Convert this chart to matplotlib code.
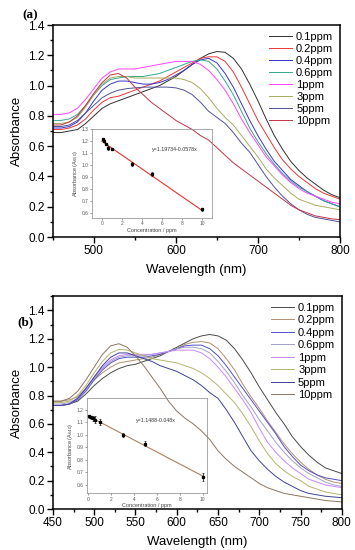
import matplotlib
matplotlib.use("Agg")
import matplotlib.pyplot as plt
from matplotlib.ticker import MultipleLocator

plt.rcParams['font.family'] = ['Liberation Sans', 'DejaVu Sans']

wl = list(range(450, 801, 10))
labels = ['0.1ppm', '0.2ppm', '0.4ppm', '0.6ppm', '1ppm', '3ppm', '5ppm', '10ppm']

# panel (a) spectra
a_01 = [0.69, 0.69, 0.70, 0.71, 0.75, 0.80, 0.85, 0.88, 0.90, 0.92, 0.94, 0.96, 0.98, 1.00, 1.03, 1.06, 1.10, 1.14,
        1.18, 1.21, 1.225, 1.22, 1.18, 1.11, 1.01, 0.90, 0.78, 0.67, 0.58, 0.50, 0.44, 0.39, 0.35, 0.31, 0.28, 0.26]
a_02 = [0.71, 0.71, 0.72, 0.74, 0.78, 0.84, 0.89, 0.92, 0.93, 0.95, 0.97, 0.99, 1.01, 1.03, 1.06, 1.09, 1.12, 1.15,
        1.18, 1.19, 1.19, 1.16, 1.09, 0.99, 0.88, 0.77, 0.68, 0.59, 0.51, 0.45, 0.40, 0.36, 0.32, 0.29, 0.27, 0.25]
a_04 = [0.72, 0.72, 0.73, 0.76, 0.82, 0.90, 0.97, 1.01, 1.03, 1.03, 1.02, 1.01, 1.01, 1.02, 1.04, 1.07, 1.10, 1.14,
        1.17, 1.18, 1.15, 1.08, 0.99, 0.88, 0.77, 0.67, 0.58, 0.50, 0.44, 0.38, 0.34, 0.30, 0.27, 0.24, 0.22, 0.20]
a_06 = [0.77, 0.77, 0.78, 0.81, 0.87, 0.94, 1.00, 1.04, 1.05, 1.06, 1.06, 1.06, 1.07, 1.08, 1.10, 1.12, 1.14, 1.16,
        1.17, 1.16, 1.11, 1.03, 0.94, 0.83, 0.72, 0.63, 0.55, 0.48, 0.42, 0.37, 0.33, 0.30, 0.27, 0.24, 0.22, 0.20]
a_1 = [0.81, 0.81, 0.82, 0.85, 0.91, 0.98, 1.05, 1.09, 1.11, 1.11, 1.11, 1.12, 1.13, 1.14, 1.15, 1.16, 1.16, 1.16,
       1.14, 1.10, 1.04, 0.97, 0.88, 0.78, 0.69, 0.61, 0.53, 0.47, 0.41, 0.36, 0.32, 0.29, 0.27, 0.25, 0.23, 0.22]
a_3 = [0.75, 0.75, 0.76, 0.79, 0.86, 0.94, 1.01, 1.05, 1.06, 1.06, 1.05, 1.05, 1.05, 1.05, 1.05, 1.05, 1.04, 1.02,
       0.98, 0.92, 0.85, 0.79, 0.74, 0.67, 0.60, 0.53, 0.45, 0.39, 0.34, 0.29, 0.25, 0.23, 0.21, 0.20, 0.19, 0.18]
a_5 = [0.73, 0.73, 0.74, 0.77, 0.82, 0.87, 0.92, 0.95, 0.97, 0.98, 0.985, 0.99, 0.99, 0.99, 0.99, 0.985, 0.97, 0.94,
       0.89, 0.83, 0.79, 0.75, 0.69, 0.62, 0.56, 0.48, 0.40, 0.33, 0.27, 0.22, 0.18, 0.15, 0.13, 0.12, 0.11, 0.10]
a_10 = [0.74, 0.74, 0.76, 0.80, 0.87, 0.95, 1.02, 1.07, 1.08, 1.05, 0.99, 0.94, 0.89, 0.85, 0.81, 0.77, 0.74, 0.71,
        0.67, 0.64, 0.59, 0.54, 0.49, 0.45, 0.41, 0.37, 0.33, 0.29, 0.25, 0.21, 0.18, 0.16, 0.14, 0.13, 0.12, 0.115]

# panel (b) spectra
b_01 = [0.73, 0.73, 0.74, 0.76, 0.81, 0.87, 0.92, 0.96, 0.99, 1.01, 1.02, 1.04, 1.06, 1.08, 1.11, 1.14, 1.17, 1.20,
        1.22, 1.23, 1.22, 1.19, 1.13, 1.05, 0.96, 0.86, 0.77, 0.68, 0.60, 0.51, 0.44, 0.38, 0.33, 0.29, 0.27, 0.25]
b_02 = [0.76, 0.76, 0.77, 0.79, 0.85, 0.91, 0.96, 1.00, 1.03, 1.04, 1.05, 1.06, 1.07, 1.09, 1.11, 1.13, 1.16, 1.175,
        1.18, 1.17, 1.13, 1.06, 0.98, 0.88, 0.79, 0.71, 0.62, 0.54, 0.46, 0.39, 0.33, 0.28, 0.24, 0.21, 0.19, 0.18]
b_04 = [0.73, 0.73, 0.74, 0.77, 0.83, 0.91, 0.98, 1.03, 1.06, 1.07, 1.07, 1.07, 1.08, 1.09, 1.11, 1.13, 1.15, 1.155,
        1.155, 1.13, 1.08, 1.01, 0.93, 0.85, 0.77, 0.69, 0.61, 0.53, 0.44, 0.37, 0.31, 0.27, 0.24, 0.22, 0.21, 0.20]
b_06 = [0.74, 0.74, 0.75, 0.78, 0.84, 0.92, 0.99, 1.04, 1.07, 1.08, 1.08, 1.08, 1.09, 1.10, 1.11, 1.13, 1.14, 1.14,
        1.13, 1.10, 1.04, 0.97, 0.89, 0.80, 0.72, 0.63, 0.55, 0.47, 0.40, 0.34, 0.29, 0.25, 0.22, 0.19, 0.17, 0.16]
b_1 = [0.73, 0.73, 0.74, 0.78, 0.85, 0.93, 1.00, 1.05, 1.08, 1.09, 1.09, 1.09, 1.09, 1.10, 1.11, 1.12, 1.12, 1.12,
       1.10, 1.06, 1.00, 0.93, 0.85, 0.77, 0.68, 0.57, 0.47, 0.40, 0.34, 0.29, 0.25, 0.21, 0.19, 0.17, 0.16, 0.15]
b_3 = [0.75, 0.75, 0.76, 0.80, 0.87, 0.96, 1.04, 1.10, 1.125, 1.12, 1.10, 1.08, 1.06, 1.05, 1.04, 1.03, 1.01, 0.99,
       0.96, 0.92, 0.87, 0.81, 0.75, 0.67, 0.58, 0.48, 0.39, 0.32, 0.27, 0.23, 0.20, 0.16, 0.14, 0.12, 0.11, 0.10]
b_5 = [0.73, 0.73, 0.74, 0.78, 0.85, 0.93, 1.01, 1.07, 1.10, 1.10, 1.08, 1.06, 1.04, 1.01, 0.99, 0.97, 0.94, 0.91,
       0.87, 0.82, 0.78, 0.70, 0.61, 0.51, 0.41, 0.34, 0.28, 0.23, 0.19, 0.16, 0.13, 0.11, 0.10, 0.09, 0.085, 0.08]
b_10 = [0.76, 0.76, 0.78, 0.83, 0.91, 1.00, 1.09, 1.15, 1.165, 1.14, 1.08, 1.01, 0.93, 0.85, 0.76, 0.69, 0.64, 0.60,
        0.55, 0.49, 0.41, 0.35, 0.30, 0.26, 0.22, 0.18, 0.15, 0.13, 0.11, 0.10, 0.09, 0.08, 0.07, 0.06, 0.055, 0.05]

colors_a = ['#303030', '#ee3535', '#3535cc', '#35a890', '#ff44ff', '#aaaa62', '#52529a', '#c03545']
colors_b = ['#4a4a4a', '#b09070', '#5050c8', '#a0a0cc', '#c888ff', '#b4b46e', '#40409c', '#8a7562']

# calibration insets
conc = [0.1, 0.2, 0.4, 0.6, 1, 3, 5, 10]
ins_a = [1.215, 1.20, 1.175, 1.143, 1.13, 1.005, 0.923, 0.629]
err_a = [0.01, 0.01, 0.01, 0.015, 0.008, 0.015, 0.015, 0.012]
ins_b = [1.146, 1.138, 1.13, 1.12, 1.10, 0.998, 0.926, 0.662]
err_b = [0.01, 0.01, 0.02, 0.025, 0.025, 0.015, 0.02, 0.03]
fit_a = (1.19734, -0.0578)
fit_b = (1.1488, -0.048)


def style_main(ax, ymax):
    ax.set_xlim(450, 800)
    ax.set_ylim(0, ymax)
    ax.yaxis.set_major_locator(MultipleLocator(0.2))
    ax.yaxis.set_minor_locator(MultipleLocator(0.1))
    ax.yaxis.set_major_formatter(matplotlib.ticker.FormatStrFormatter('%.1f'))
    ax.tick_params(which='major', direction='out', length=4, width=1, labelsize=8.5, pad=2)
    ax.tick_params(which='minor', direction='out', length=2.2, width=1)
    for s in ax.spines.values():
        s.set_linewidth(1.1)
    ax.set_xlabel('Wavelength (nm)', fontsize=9.5, labelpad=5)
    ax.set_ylabel('Absorbance', fontsize=9.5, labelpad=4)


def style_inset(ax, ylo, yhi, xlo, xhi):
    ax.set_facecolor('none')
    ax.set_xlim(xlo, xhi)
    ax.set_ylim(ylo, yhi)
    ax.xaxis.set_major_locator(MultipleLocator(2))
    ax.yaxis.set_major_locator(MultipleLocator(0.1))
    ax.yaxis.set_major_formatter(matplotlib.ticker.FormatStrFormatter('%.1f'))
    ax.tick_params(direction='out', length=1.5, width=0.4, labelsize=3.5, pad=1, colors='#555555')
    for s in ax.spines.values():
        s.set_linewidth(0.5)
        s.set_color('#888888')
    ax.set_xlabel('Concentration / ppm', fontsize=4, labelpad=1, color='#444444')
    ax.set_ylabel('Absorbance (A$_{650}$)', fontsize=4, labelpad=1, color='#444444')


fig = plt.figure(figsize=(3.55, 5.5), dpi=100)

# ---- panel (a)
ax1 = fig.add_axes([0.149, 0.569, 0.8085, 0.3855])
for ys, c, lab in zip([a_01, a_02, a_04, a_06, a_1, a_3, a_5, a_10], colors_a, labels):
    ax1.plot(wl, ys, color=c, lw=0.7, label=lab)
style_main(ax1, 1.4)
ax1.xaxis.set_major_locator(MultipleLocator(100))
ax1.xaxis.set_minor_locator(MultipleLocator(50))
ax1.legend(loc='upper right', frameon=False, fontsize=8, handlelength=2.0, handletextpad=0.4,
           labelspacing=0.18, borderaxespad=0.2, bbox_to_anchor=(1.0, 1.0))
fig.text(0.062, 0.973, '(a)', fontsize=9.5, fontweight='bold', family='Liberation Serif', va='center')

axi1 = fig.add_axes([0.259, 0.6036, 0.338, 0.1618])
style_inset(axi1, 0.555, 1.3, -1, 11)
axi1.plot([0, 10], [fit_a[0], fit_a[0] + 10 * fit_a[1]], color='#ee3030', lw=0.8)
axi1.errorbar(conc, ins_a, yerr=err_a, fmt='s', ms=1.4, color='black', elinewidth=0.5, capsize=0.8, capthick=0.4)
axi1.text(5.0, 1.12, 'y=1.19734-0.0578x', fontsize=3.8, color='#333333')

# ---- panel (b)
ax2 = fig.add_axes([0.149, 0.0745, 0.814, 0.387])
for ys, c, lab in zip([b_01, b_02, b_04, b_06, b_1, b_3, b_5, b_10], colors_b, labels):
    ax2.plot(wl, ys, color=c, lw=0.7, label=lab)
style_main(ax2, 1.5)
ax2.xaxis.set_major_locator(MultipleLocator(50))
ax2.xaxis.set_minor_locator(MultipleLocator(25))
ax2.legend(loc='upper right', frameon=False, fontsize=8, handlelength=2.0, handletextpad=0.4,
           labelspacing=0.22, borderaxespad=0.2, bbox_to_anchor=(1.0, 1.0))
fig.text(0.05, 0.414, '(b)', fontsize=9.5, fontweight='bold', family='Liberation Serif', va='center')

axi2 = fig.add_axes([0.244, 0.103, 0.338, 0.1727])
style_inset(axi2, 0.53, 1.29, -0.15, 10.35)
axi2.set_ylabel('Absorbance (A$_{640}$)', fontsize=4, labelpad=1, color='#444444')
axi2.plot([0, 10], [fit_b[0], fit_b[0] + 10 * fit_b[1]], color='#b08060', lw=0.8)
axi2.errorbar(conc, ins_b, yerr=err_b, fmt='s', ms=1.4, color='black', elinewidth=0.5, capsize=0.8, capthick=0.4)
axi2.text(4.2, 1.1, 'y=1.1488-0.048x', fontsize=3.8, color='#333333')

fig.savefig('out.png', dpi=100)
